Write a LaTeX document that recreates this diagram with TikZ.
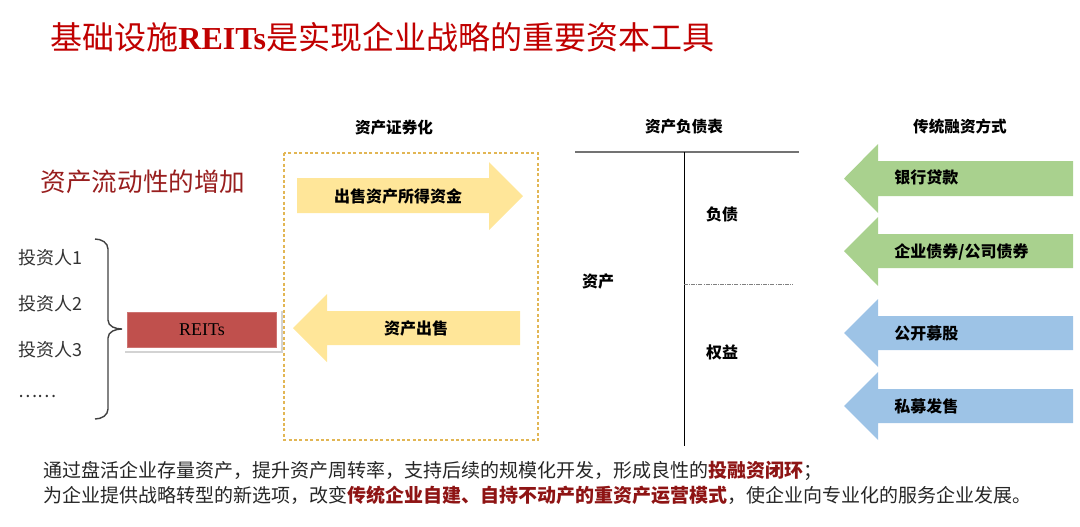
\documentclass[tikz,border=0pt]{standalone}
\usepackage{fontspec}
\setmainfont{Noto Sans CJK SC}
\newfontfamily\latinserif{Liberation Serif}
\usetikzlibrary{shadows}

\definecolor{titleRed}{HTML}{C00000}
\definecolor{liqRed}{HTML}{981E1E}
\definecolor{noteRed}{HTML}{8E1414}
\definecolor{reitsRed}{HTML}{C0504D}
\definecolor{secYellow}{HTML}{FFE699}
\definecolor{loanGreen}{HTML}{A9D18E}
\definecolor{equityBlue}{HTML}{9DC3E6}
\definecolor{boxGold}{HTML}{E2B654}

\begin{document}
\begin{tikzpicture}[
    x=0.5pt, y=-0.5pt, every node/.style={inner sep=0pt, font=\fontsize{8}{10}\selectfont},
    hdr/.style={font=\fontsize{7.8}{9}\selectfont\bfseries},
    arrowText/.style={font=\fontsize{8}{10}\selectfont\bfseries},
    invText/.style={anchor=west, text=black!80, font=\fontsize{9}{11}\selectfont},
    noteText/.style={anchor=west, text=black!85, font=\fontsize{9.5}{12}\selectfont},
    yArrow/.style={fill=secYellow},
    gArrow/.style={fill=loanGreen},
    bArrow/.style={fill=equityBlue},
    secBox/.style={draw=boxGold, line width=0.6pt, dash pattern=on 1.5pt off 1.2pt},
    reitsFrame/.style={rectangle, fill=white, minimum width=79pt, minimum height=21pt, drop shadow={shadow xshift=0.8pt, shadow yshift=-1.2pt, opacity=0.35}},
    reitsBox/.style={rectangle, fill=reitsRed, draw=reitsRed!80!white, line width=0.4pt, minimum width=74.5pt, minimum height=17.5pt, font=\latinserif\fontsize{9}{11}\selectfont},
    sheetLine/.style={draw=black!55, line width=0.8pt}
]
    \useasboundingbox (0,0) rectangle (1080,526);

    % title
    \node[anchor=west, text=titleRed, font=\fontsize{16}{19}\selectfont] (title) at (50,37)
        {基础设施{\latinserif\bfseries REITs}是实现企业战略的重要资本工具};

    % left part
    \node[text=liqRed, font=\fontsize{12.8}{15}\selectfont] (liquid) at (143,182) {资产流动性的增加};
    \node[invText] (inv1) at (18,258) {投资人1};
    \node[invText] (inv2) at (18,304) {投资人2};
    \node[invText] (inv3) at (18,350) {投资人3};
    \node[invText] (invMore) at (18,396) {……};
    \draw[black!75, line width=0.7pt] (95,239) to[out=0, in=90] (108,249) -- (108,320)
        to[out=-90, in=180] (122,329) to[out=180, in=90] (108,338) -- (108,409) to[out=-90, in=0] (95,419);
    \node[reitsFrame] (reitsFrame) at (202,329.5) {};
    \node[reitsBox] (reits) at (202,329.5) {REITs};

    % asset securitization
    \node[hdr] (hdrSec) at (394,128) {资产证券化};
    \draw[secBox] (284,153) rectangle (538,440);
    \fill[yArrow] (297,178) -- (489,178) -- (489,162) -- (523,196) -- (489,230) -- (489,213) -- (297,213) -- cycle;
    \node[arrowText] (sellFund) at (398,196) {出售资产所得资金};
    \fill[yArrow] (520,311) -- (327,311) -- (327,294) -- (293,328) -- (327,362) -- (327,345) -- (520,345) -- cycle;
    \node[arrowText] (sellAsset) at (416,328) {资产出售};

    % balance sheet
    \node[hdr] (hdrBal) at (684,127) {资产负债表};
    \draw[sheetLine] (575,152) -- (799,152);
    \draw[black, line width=0.5pt] (684,152) -- (684,446);
    \draw[black!50, line width=0.3pt, dash pattern=on 2pt off 0.6pt on 0.4pt off 0.6pt] (684,284) -- (793,284);
    \node[arrowText] (asset) at (598,281) {资产};
    \node[arrowText] (debt) at (722,214) {负债};
    \node[arrowText] (equity) at (722,352) {权益};

    % traditional financing
    \node[hdr] (hdrTrad) at (960,127) {传统融资方式};
    \fill[gArrow] (1073,161) -- (878,161) -- (878,144) -- (844,178.5) -- (878,213) -- (878,196) -- (1073,196) -- cycle;
    \node[arrowText, anchor=west] (loan) at (894,177.5) {银行贷款};
    \fill[gArrow] (1073,234) -- (878,234) -- (878,217) -- (844,251) -- (878,286) -- (878,268) -- (1073,268) -- cycle;
    \node[arrowText, anchor=west] (bond) at (894,252) {企业债券/公司债券};
    \fill[bArrow] (1073,316) -- (878,316) -- (878,299) -- (844,333) -- (878,367) -- (878,350) -- (1073,350) -- cycle;
    \node[arrowText, anchor=west] (ipo) at (894,333) {公开募股};
    \fill[bArrow] (1073,389) -- (878,389) -- (878,372) -- (844,406) -- (878,440) -- (878,423) -- (1073,423) -- cycle;
    \node[arrowText, anchor=west] (private) at (894,406) {私募发售};

    % notes
    \node[noteText] (note1) at (43,471)
        {通过盘活企业存量资产，提升资产周转率，支持后续的规模化开发，形成良性的\textcolor{noteRed}{\bfseries 投融资闭环}；};
    \node[noteText] (note2) at (43,495)
        {为企业提供战略转型的新选项，改变\textcolor{noteRed}{\bfseries 传统企业自建、自持不动产的重资产运营模式}，使企业向专业化的服务企业发展。};
\end{tikzpicture}
\end{document}
